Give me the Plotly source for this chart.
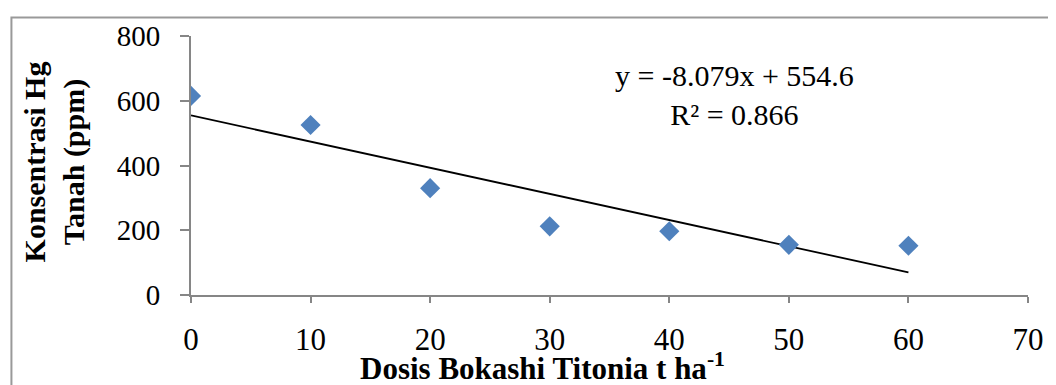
import numpy as np
import plotly.graph_objects as go

dosis = [0, 10, 20, 30, 40, 50, 60]
hg = [615, 525, 330, 212, 197, 155, 152]
x_ticks = [0, 10, 20, 30, 40, 50, 60, 70]
y_ticks = [0, 200, 400, 600, 800]

slope, intercept = np.polyfit(dosis, hg, 1)
fit_x = [min(dosis), max(dosis)]
fit_y = [slope * v + intercept for v in fit_x]
pred = np.polyval([slope, intercept], dosis)
r2 = 1 - np.sum((np.array(hg) - pred) ** 2) / np.sum((np.array(hg) - np.mean(hg)) ** 2)

OFF = 8  # default page body margin
W, H = 1056 - OFF, 385 - OFF
L, T = 191 - OFF, 28 - OFF
R = W - (1030 - OFF)
B = H - (295 - OFF)
pw, ph = W - L - R, H - T - B

def px(xp):  # page pixel -> paper x
    return (xp - OFF - L) / pw

def py(yp):  # page pixel -> paper y
    return (295 - yp) / ph

FONT = "Liberation Serif, Times New Roman, serif"

fig = go.Figure()
fig.add_trace(go.Scatter(x=fit_x, y=fit_y, mode="lines",
                         line=dict(color="black", width=1.8), showlegend=False))
fig.add_trace(go.Scatter(x=dosis, y=hg, mode="markers",
                         marker=dict(symbol="diamond", size=15.5, color="#4F81BD",
                                     line=dict(width=0)), showlegend=False))

fig.update_layout(
    width=W, height=H,
    margin=dict(l=L, r=R, t=T, b=B),
    paper_bgcolor="white", plot_bgcolor="white",
    font=dict(family=FONT, size=28, color="black"),
    xaxis=dict(range=[0, 70], tickvals=x_ticks, showgrid=False, zeroline=False,
               showline=True, linecolor="#868686", linewidth=2,
               ticks="outside", ticklen=6, tickcolor="#868686", tickwidth=1.5,
               ticklabelstandoff=10, tickfont=dict(family=FONT, size=31, color="black")),
    yaxis=dict(range=[0, 800], tickvals=y_ticks, showgrid=False, zeroline=False,
               showline=True, linecolor="#868686", linewidth=2,
               ticks="outside", ticklen=9, tickcolor="#868686", tickwidth=1.5,
               ticklabelstandoff=14, tickfont=dict(family=FONT, size=29, color="black")),
    shapes=[dict(type="rect", xref="paper", yref="paper",
                 x0=px(11), x1=px(1080), y0=py(420), y1=py(9),
                 line=dict(color="#999999", width=2), layer="below")],
    annotations=[
        dict(text=f"y = {slope:.3f}x + {intercept:.1f}<br>R² = {r2:.3f}",
             xref="paper", yref="paper", x=px(736), y=py(89),
             showarrow=False, align="center", xanchor="center", yanchor="middle",
             font=dict(family=FONT, size=30, color="black")),
        dict(text="<b>Dosis Bokashi Titonia t ha<sup>-1</sup></b>",
             xref="paper", yref="paper", x=px(543), y=py(369),
             showarrow=False, xanchor="center", yanchor="middle",
             font=dict(family=FONT, size=31, color="black")),
        dict(text="<b>Konsentrasi Hg<br>Tanah (ppm)</b>",
             xref="paper", yref="paper", x=px(54), y=py(158),
             showarrow=False, textangle=-90, xanchor="center", yanchor="middle",
             font=dict(family=FONT, size=30, color="black")),
    ],
)

fig.write_html("out.html")
